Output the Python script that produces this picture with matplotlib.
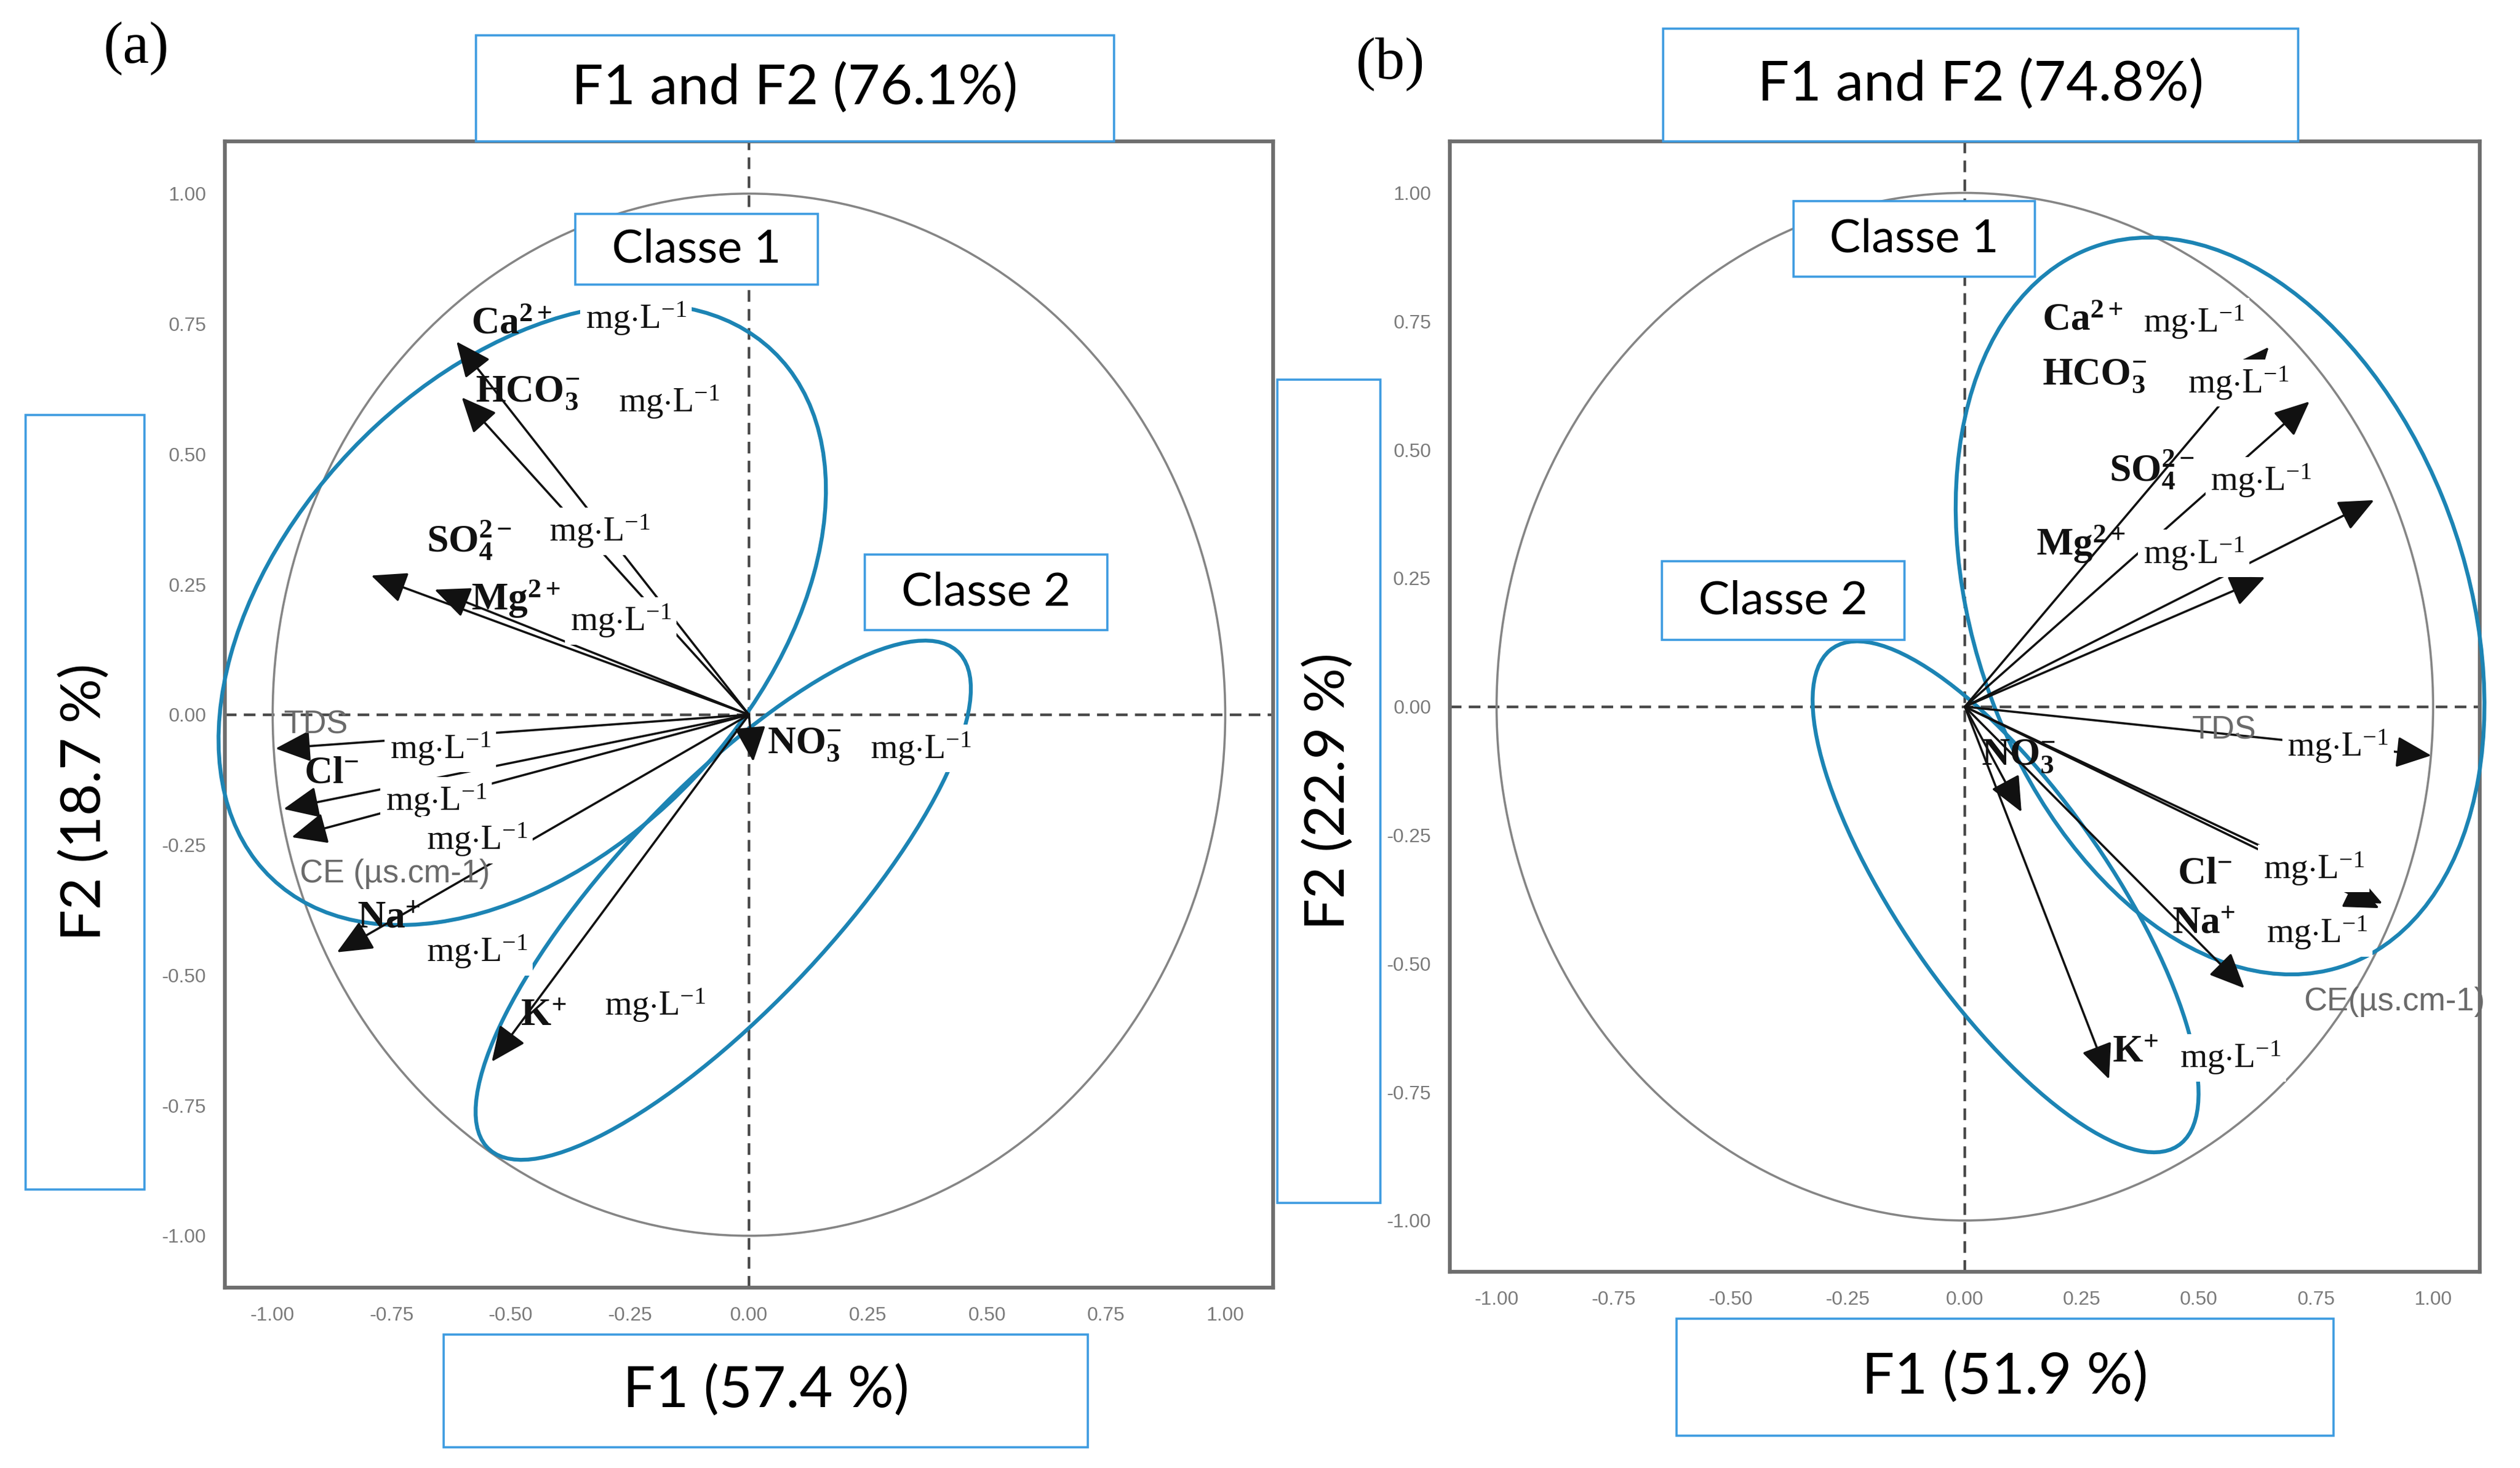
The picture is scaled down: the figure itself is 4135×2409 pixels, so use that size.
import numpy as np
import matplotlib
matplotlib.use('Agg')
import matplotlib.pyplot as plt
from matplotlib.patches import Ellipse, Rectangle

plt.rcParams['mathtext.fontset'] = 'custom'
plt.rcParams['mathtext.rm'] = 'Liberation Serif'
plt.rcParams['mathtext.it'] = 'Liberation Serif:italic'
plt.rcParams['mathtext.bf'] = 'Liberation Serif:bold'

# деления осей
TICKS = [-1.00, -0.75, -0.50, -0.25, 0.00, 0.25, 0.50, 0.75, 1.00]

# переменные (одинаковые для обеих панелей)
VARS = ['Ca', 'HCO3', 'SO4', 'Mg', 'TDS', 'Cl', 'CE', 'Na', 'K', 'NO3']
NAMES = {
    'Ca': r'$\mathbf{Ca^{2+}}$',
    'HCO3': r'$\mathbf{HCO_3^{-}}$',
    'SO4': r'$\mathbf{SO_4^{2-}}$',
    'Mg': r'$\mathbf{Mg^{2+}}$',
    'TDS': 'TDS',
    'Cl': r'$\mathbf{Cl^{-}}$',
    'CE': 'CE (µs.cm-1)',
    'Na': r'$\mathbf{Na^{+}}$',
    'K': r'$\mathbf{K^{+}}$',
    'NO3': r'$\mathbf{NO_3^{-}}$',
}
UNIT = r'mg$\cdot$L$^{-1}$'

# панель (a): нагрузки F1 / F2
F1_A = [-0.614, -0.603, -0.793, -0.660, -0.994, -0.977, -0.960, -0.865, -0.540, 0.009]
F2_A = [0.716, 0.609, 0.267, 0.240, -0.065, -0.181, -0.235, -0.456, -0.666, -0.090]

# панель (b): нагрузки F1 / F2
F1_B = [0.649, 0.736, 0.874, 0.641, 0.996, 0.892, 0.597, 0.885, 0.308, 0.121]
F2_B = [0.700, 0.594, 0.402, 0.252, -0.095, -0.383, -0.548, -0.392, -0.725, -0.205]

# эллипсы классов: центр x, центр y, ширина, высота, угол
CLASS_A = [(-0.476, 0.192, 1.464, 0.950, 40.2), (-0.054, -0.356, 1.372, 0.438, 43.5)]
CLASS_B = [(0.545, 0.196, 1.500, 1.040, 114.0), (0.087, -0.370, 1.218, 0.430, 128.1)]

TITLE_A = 'F1 and F2 (76.1%)'
XLAB_A = 'F1 (57.4 %)'
YLAB_A = 'F2 (18.7 %)'
TITLE_B = 'F1 and F2 (74.8%)'
XLAB_B = 'F1 (51.9 %)'
YLAB_B = 'F2 (22.9 %)'

# положения подписей (название, единицы) в координатах данных
LAB_POS_A = {
    'Ca': ((-0.583, 0.752), (-0.343, 0.761)),
    'HCO3': ((-0.574, 0.618), (-0.274, 0.600)),
    'SO4': ((-0.677, 0.335), (-0.420, 0.352)),
    'Mg': ((-0.583, 0.222), (-0.375, 0.180)),
    'TDS': ((-0.977, -0.020), (-0.754, -0.065)),
    'Cl': ((-0.934, -0.110), (-0.763, -0.165)),
    'CE': ((-0.943, -0.305), (-0.677, -0.240)),
    'Na': ((-0.823, -0.388), (-0.677, -0.455)),
    'K': ((-0.480, -0.576), (-0.303, -0.558)),
    'NO3': ((0.038, -0.056), (0.255, -0.065)),
}
LAB_POS_B = {
    'Ca': ((0.165, 0.754), (0.381, 0.749)),
    'HCO3': ((0.165, 0.645), (0.476, 0.630)),
    'SO4': ((0.308, 0.462), (0.525, 0.440)),
    'Mg': ((0.152, 0.316), (0.381, 0.298)),
    'TDS': ((0.485, -0.046), (0.689, -0.077)),
    'Cl': ((0.454, -0.322), (0.637, -0.315)),
    'Na': ((0.442, -0.420), (0.644, -0.440)),
    'CE': ((0.724, -0.574), None),
    'K': ((0.315, -0.670), (0.459, -0.683)),
    'NO3': ((0.035, -0.095), None),
}

ELL_COLOR = '#1c84b4'
BOX_COLOR = '#3d9be0'
GREY = '#7a7a7a'


def DrawBox(fig, x0, y0, x1, y1, text, size, rotation=0):
    rect = Rectangle((x0, y0), x1 - x0, y1 - y0, transform=fig.transFigure,
                     facecolor='white', edgecolor=BOX_COLOR, lw=2.6, zorder=20)
    fig.add_artist(rect)
    fig.text((x0 + x1) / 2, (y0 + y1) / 2, text, ha='center', va='center',
             fontsize=size, family='Lato', rotation=rotation, zorder=21)


def DrawPanel(ax, f1, f2, classes, lab_pos, ce_text):
    ax.set_xlim(-1.1, 1.1)
    ax.set_ylim(-1.1, 1.1)
    ax.set_xticks(TICKS)
    ax.set_yticks(TICKS)
    ax.set_xticklabels(['%.2f' % t for t in TICKS])
    ax.set_yticklabels(['%.2f' % t for t in TICKS])
    ax.tick_params(length=0, labelsize=23, labelcolor=GREY, pad=22)
    for lab in ax.get_xticklabels() + ax.get_yticklabels():
        lab.set_family('Liberation Sans')
    for sp in ax.spines.values():
        sp.set_color('#6e6e6e')
        sp.set_linewidth(4.5)

    # оси через ноль
    ax.axhline(0, color='#4a4a4a', lw=3.2, ls=(0, (4.3, 2.7)), zorder=1)
    ax.axvline(0, color='#4a4a4a', lw=3.2, ls=(0, (4.3, 2.7)), zorder=1)

    # круг корреляций
    ax.add_patch(Ellipse((0, 0), 2, 2, fill=False, edgecolor='#858585', lw=2.6, zorder=2))

    # эллипсы классов
    for cx, cy, w, h, ang in classes:
        ax.add_patch(Ellipse((cx, cy), w, h, angle=ang, fill=False,
                             edgecolor=ELL_COLOR, lw=4.6, zorder=3, clip_on=False))

    # векторы переменных
    for x, y in zip(f1, f2):
        ax.annotate('', xy=(x, y), xytext=(0, 0),
                    arrowprops=dict(arrowstyle='-|>,head_length=0.45,head_width=0.2',
                                    color='#111111', lw=2.6,
                                    mutation_scale=80, shrinkA=0, shrinkB=0),
                    zorder=4)

    # подписи
    for v in VARS:
        name_xy, unit_xy = lab_pos[v]
        if v == 'TDS':
            ax.text(name_xy[0], name_xy[1], 'TDS', ha='left', va='center',
                    fontsize=38, family='Liberation Sans', color='#6a6a6a', zorder=6)
        elif v == 'CE':
            ax.text(name_xy[0], name_xy[1], ce_text, ha='left', va='center',
                    fontsize=38, family='Liberation Sans', color='#6a6a6a', zorder=6)
        else:
            ax.text(name_xy[0], name_xy[1], NAMES[v], ha='left', va='center',
                    fontsize=46, color='#111111', zorder=6)
        if unit_xy is not None:
            ax.text(unit_xy[0], unit_xy[1], UNIT, ha='left', va='center',
                    fontsize=41, family='Liberation Serif', color='#111111', zorder=5,
                    bbox=dict(facecolor='white', edgecolor='none', pad=6))


def main():
    fig = plt.figure(figsize=(41.35, 24.09), dpi=100)

    ax_a = fig.add_axes([0.0893, 0.1227, 0.4158, 0.7809])
    ax_b = fig.add_axes([0.5753, 0.1336, 0.4088, 0.7700])

    DrawPanel(ax_a, F1_A, F2_A, CLASS_A, LAB_POS_A, 'CE (µs.cm-1)')
    DrawPanel(ax_b, F1_B, F2_B, CLASS_B, LAB_POS_B, 'CE(µs.cm-1)')

    # рамки с подписями
    DrawBox(fig, 0.1888, 0.9036, 0.4420, 0.9759, TITLE_A, 66)
    DrawBox(fig, 0.1760, 0.0142, 0.4318, 0.0909, XLAB_A, 68)
    DrawBox(fig, 0.0102, 0.1895, 0.0574, 0.7174, YLAB_A, 66, rotation=90)
    DrawBox(fig, 0.2283, 0.8061, 0.3246, 0.8543, 'Classe 1', 55)
    DrawBox(fig, 0.3431, 0.5706, 0.4394, 0.6221, 'Classe 2', 55)

    DrawBox(fig, 0.6600, 0.9036, 0.9120, 0.9803, TITLE_B, 66)
    DrawBox(fig, 0.6652, 0.0219, 0.9260, 0.1019, XLAB_B, 68)
    DrawBox(fig, 0.5070, 0.1807, 0.5478, 0.7415, YLAB_B, 66, rotation=90)
    DrawBox(fig, 0.7117, 0.8116, 0.8074, 0.8631, 'Classe 1', 55)
    DrawBox(fig, 0.6594, 0.5641, 0.7557, 0.6177, 'Classe 2', 55)

    fig.text(0.054, 0.967, '(a)', ha='center', va='center', fontsize=70,
             family='Liberation Serif')
    fig.text(0.5517, 0.956, '(b)', ha='center', va='center', fontsize=70,
             family='Liberation Serif')

    fig.savefig('out.png', dpi=100, facecolor='white')
    return 0


if __name__ == '__main__':
    main()
